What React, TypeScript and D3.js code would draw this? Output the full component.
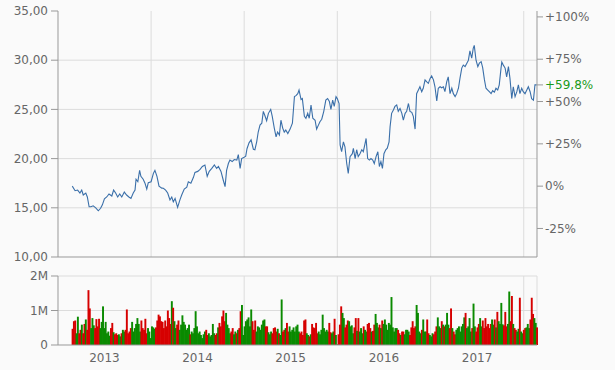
import { useEffect } from "react";
import * as d3 from "d3";

// closing prices
const prices = [
  17.2, 16.74, 16.8, 16.5, 16.8, 16.3, 16.5, 16.1, 15.1, 15.1,
  15.2, 15.0, 14.7, 14.95, 15.3, 15.9, 16.1, 16.4, 16.2, 16.8,
  16.5, 16.1, 16.4, 16.1, 16.6, 16.3, 16.1, 15.95, 16.5, 16.8,
  17.9, 17.65, 18.8, 18.2, 17.9, 17.5, 16.9, 17.55, 17.65, 18.5,
  18.8, 18.2, 17.2, 17.0, 16.98, 16.8, 16.5, 15.8, 16.1, 15.6,
  15.95, 15.05, 15.8, 16.3, 16.9, 17.1, 17.65, 17.5, 18.1, 18.6,
  18.7, 18.9, 19.2, 19.35, 18.2, 18.7, 19.0, 19.35, 19.0, 19.2,
  18.7, 17.8, 17.15, 18.8, 19.5, 19.85, 19.7, 19.9, 19.85, 20.4,
  19.0, 20.0, 20.1, 20.25, 21.0, 21.6, 21.9, 20.95, 20.9, 21.7,
  22.7, 23.4, 23.6, 24.8, 24.3, 23.85, 24.6, 25.0, 24.3, 23.1,
  22.2, 22.7, 22.4, 23.9, 23.1, 22.7, 22.9, 22.55, 23.0, 23.6,
  26.3, 26.4, 26.6, 26.97, 26.0, 26.1, 24.3, 24.1, 24.6, 24.1,
  25.45, 24.1, 23.9, 23.0, 23.4, 23.75, 24.0, 24.8, 25.95, 26.1,
  25.8, 25.0, 25.95, 25.3, 26.3, 26.1, 25.6, 21.4, 20.7, 21.7,
  21.2, 19.5, 18.5, 20.2, 20.5, 21.05, 20.0, 20.9, 20.2, 20.5,
  20.9, 20.7, 21.55, 22.05, 20.0, 19.85, 20.0, 19.85, 19.5, 20.2,
  20.7, 19.2, 19.7, 19.0, 20.5, 20.9, 21.05, 21.7, 23.25, 24.6,
  24.95, 25.3, 25.45, 24.8, 25.1, 24.6, 23.9, 24.6, 24.8, 25.6,
  24.8, 24.7, 24.3, 23.0, 26.6, 26.97, 27.3, 26.8, 27.15, 28.0,
  27.8, 27.65, 28.15, 28.4, 28.0, 27.3, 25.85, 27.15, 27.3, 27.2,
  27.3, 26.8, 27.8, 28.3, 26.6, 27.15, 26.6, 26.3, 26.6, 27.15,
  28.15, 29.2, 29.5, 29.35, 29.7, 30.0, 30.95, 30.2, 31.2, 31.5,
  30.0, 29.35, 29.7, 29.85, 29.25, 28.0, 27.15, 26.97, 26.8, 26.6,
  26.9, 26.75, 27.15, 26.97, 27.5, 29.2, 29.8, 29.5, 29.2, 28.3,
  29.35, 28.15, 26.1, 27.3, 26.3, 26.8, 27.5, 26.6, 27.15, 26.8,
  26.6, 26.97, 27.3, 26.8, 26.1, 25.95, 27.5, 27.49,
];

// day of each price reading, counted from 1 Jan 2013
const priceDay = [
  56, 67, 77, 86, 93, 99, 109, 115, 122, 129,
  138, 148, 158, 167, 174, 182, 191, 200, 211, 218,
  226, 234, 242, 250, 260, 269, 278, 286, 295, 302,
  306, 313, 320, 325, 334, 341, 348, 354, 365, 374,
  380, 388, 396, 407, 413, 422, 430, 439, 446, 452,
  459, 469, 478, 485, 495, 505, 511, 521, 531, 537,
  548, 557, 566, 576, 585, 593, 603, 613, 622, 629,
  639, 648, 655, 661, 668, 674, 683, 691, 701, 707,
  714, 720, 728, 736, 741, 749, 757, 766, 772, 779,
  785, 792, 799, 805, 812, 818, 825, 834, 840, 848,
  855, 861, 868, 874, 881, 887, 893, 901, 910, 919,
  927, 933, 940, 945, 953, 958, 966, 972, 979, 985,
  992, 999, 1008, 1014, 1021, 1027, 1034, 1042, 1050, 1057,
  1064, 1070, 1077, 1083, 1090, 1095, 1102, 1106, 1112, 1119,
  1125, 1132, 1138, 1145, 1154, 1158, 1165, 1171, 1177, 1184,
  1191, 1197, 1204, 1208, 1214, 1221, 1227, 1234, 1240, 1247,
  1254, 1260, 1266, 1272, 1278, 1285, 1291, 1298, 1302, 1308,
  1315, 1321, 1328, 1334, 1341, 1348, 1354, 1361, 1367, 1374,
  1380, 1387, 1393, 1400, 1406, 1413, 1419, 1426, 1432, 1439,
  1446, 1452, 1459, 1465, 1472, 1478, 1485, 1491, 1498, 1504,
  1511, 1517, 1524, 1530, 1537, 1544, 1550, 1557, 1563, 1570,
  1576, 1583, 1589, 1596, 1603, 1609, 1615, 1622, 1628, 1632,
  1639, 1646, 1652, 1659, 1665, 1672, 1678, 1685, 1691, 1698,
  1704, 1711, 1717, 1724, 1730, 1737, 1740, 1746, 1753, 1759,
  1766, 1772, 1779, 1785, 1792, 1799, 1805, 1811, 1818, 1824,
  1831, 1838, 1844, 1851, 1857, 1864, 1870, 1877,
];

// traded volume in millions, evenly spaced over the same period
const volumes = [
  0.47, 0.69, 0.71, 0.34, 0.82, 0.34, 0.44, 0.59, 0.34, 0.61,
  0.74, 0.44, 1.59, 1.06, 0.49, 0.78, 0.57, 0.49, 0.75, 0.54,
  0.76, 0.49, 0.67, 1.12, 0.49, 0.67, 0.34, 0.39, 0.27, 0.49,
  0.64, 0.37, 0.31, 0.34, 0.29, 0.31, 0.25, 0.34, 0.44, 0.39,
  0.44, 1.03, 0.34, 0.39, 0.49, 0.67, 0.39, 0.49, 0.61, 0.78,
  0.61, 0.39, 0.71, 0.49, 0.44, 0.76, 0.34, 0.49, 0.39, 0.2,
  0.54, 0.51, 0.47, 0.51, 0.71, 0.88, 0.83, 0.69, 0.67, 0.49,
  0.71, 0.54, 1.0, 0.78, 0.61, 1.27, 1.08, 0.69, 0.49, 0.59,
  0.71, 0.44, 0.59, 0.86, 0.67, 0.59, 0.44, 0.49, 0.59, 0.31,
  0.39, 0.34, 0.49, 0.98, 0.54, 0.34, 0.39, 0.29, 0.2, 0.31,
  0.39, 0.44, 0.29, 0.34, 0.25, 0.29, 0.61, 0.34, 0.29, 0.34,
  0.51, 0.64, 0.54, 0.83, 1.0, 0.69, 0.93, 0.59, 0.49, 0.34,
  0.39, 0.49, 0.31, 0.39, 0.34, 0.44, 0.49, 0.98, 1.16, 0.29,
  0.54, 0.69, 0.74, 0.8, 0.54, 1.03, 0.69, 0.44, 0.71, 0.39,
  0.54, 0.51, 0.44, 0.59, 0.71, 0.74, 0.54, 0.54, 0.37, 0.31,
  0.39, 0.34, 0.49, 0.51, 0.39, 0.47, 0.34, 0.29, 1.32, 0.39,
  0.44, 0.49, 0.64, 0.39, 0.54, 0.39, 0.44, 0.51, 0.39, 0.54,
  0.59,
  0.39, 0.34, 0.39, 0.29, 0.71, 0.74, 0.34, 0.29, 0.25, 0.31,
  0.61, 0.51, 0.49, 0.64, 0.34, 0.39, 0.31, 0.44, 0.88, 0.49,
  0.39, 0.44, 0.39, 0.64, 0.37, 0.34, 0.39, 0.76, 0.29, 0.02,
  0.31, 0.59, 1.12, 0.93, 0.78, 0.51, 0.59, 0.71, 0.69, 0.54,
  0.57, 0.34, 0.51, 0.78, 0.41, 0.78, 0.39, 0.49, 0.34, 0.54,
  0.44, 0.39, 0.61, 0.64, 0.49, 0.39, 0.41, 0.59, 0.9, 0.64,
  0.51, 0.59, 0.49, 0.71, 0.61, 0.74, 0.59, 0.44, 0.64, 0.59,
  1.39, 0.51, 0.39, 0.49, 0.49, 0.44, 0.34, 0.29, 0.39, 0.39,
  0.31, 0.44, 0.44, 0.39, 0.29, 0.51, 0.69, 0.49, 0.54, 1.16,
  0.93, 0.39, 0.34, 0.44, 0.74, 0.39, 0.39, 0.74, 0.34, 0.29,
  0.25, 0.34, 0.31, 0.39, 0.54, 0.8, 0.54, 0.49, 0.69, 0.59,
  0.54, 0.59, 0.93, 0.59, 0.49, 1.06, 0.49, 0.39, 0.31, 0.44,
  0.49, 0.54, 0.39, 0.54, 0.61, 0.8, 0.93, 0.49, 0.54, 0.78,
  0.39, 0.49, 1.2, 0.54, 0.39, 0.51, 0.61, 0.78, 0.54, 0.71,
  0.49, 0.78, 0.54, 0.61, 0.49, 0.61, 0.74, 0.59, 0.74, 0.51,
  0.96, 0.69, 0.61, 1.22, 0.6, 0.57, 0.96, 0.54, 0.61, 1.55,
  0.69, 1.42, 0.61, 0.49, 0.44, 0.39, 0.47, 1.37, 0.39, 0.34,
  0.44, 0.49, 0.51, 0.61, 0.49, 0.74, 1.37, 0.9, 0.78, 0.64,
  0.51,
];

const priceTicks = [10, 15, 20, 25, 30, 35];
const pctTicks = [-0.25, 0, 0.25, 0.5, 0.75, 1];
const volTicks = [0, 1, 2];
const years = [2013, 2014, 2015, 2016, 2017];

const W = 615;
const H = 370;
const left = 58;
const right = 537;
const DAY = 864e5;
const origin = new Date(2013, 0, 1).getTime();

export default function App() {
  useEffect(() => {
    document.body.style.margin = "0";
    document.body.style.background = "#fafafa";
  }, []);

  const x = d3.scaleTime().domain([new Date(2013, 0, 1), new Date(2018, 1, 22)]).range([left, right]);
  const yP = d3.scaleLinear().domain([10, 35]).range([257, 11]);
  const yV = d3.scaleLinear().domain([0, 2]).range([345, 276]);

  const pDates = priceDay.map((d) => new Date(origin + d * DAY));
  const first = pDates[0].getTime();
  const span = pDates[pDates.length - 1].getTime() - first;
  const vDates = volumes.map((_, i) => new Date(first + (span * i) / (volumes.length - 1)));

  // price level at a volume bar's date, used only to color it up / down
  const priceAt = d3.scaleTime().domain(pDates).range(prices);
  const barW = x(vDates[1]) - x(vDates[0]);

  const base = prices[0];
  const last = prices[prices.length - 1];
  const lastPct = last / base - 1;
  const fmtPrice = (v: number) => d3.format(".2f")(v).replace(".", ",");
  const fmtPct = (p: number) =>
    p === 0 ? "0%" : (p > 0 ? "+" : "-") + d3.format(".0f")(Math.abs(p) * 100) + "%";

  const line = d3.line<number>()
    .x((_, i) => x(pDates[i]))
    .y((d) => yP(d));

  const yearStarts = d3.timeYear.range(new Date(2014, 0, 1), new Date(2018, 0, 2));
  const font = { fontFamily: "DejaVu Sans, Verdana, sans-serif", fontSize: 12 };
  const axisCol = "#999";
  const gridCol = "#dcdcdc";
  const textCol = "#666";

  return (
    <svg width={W} height={H} style={{ display: "block", background: "#fafafa" }}>
      {/* price panel grid */}
      {priceTicks.slice(1, -1).map((t) => (
        <line key={"pg" + t} x1={left} x2={right} y1={yP(t)} y2={yP(t)} stroke={gridCol} />
      ))}
      {yearStarts.map((d, i) => (
        <g key={"vg" + i}>
          <line x1={x(d)} x2={x(d)} y1={yP(35)} y2={yP(10)} stroke={gridCol} />
          <line x1={x(d)} x2={x(d)} y1={yV(2)} y2={yV(0)} stroke={gridCol} />
        </g>
      ))}

      {/* volume panel grid */}
      {volTicks.slice(1).map((t) => (
        <line key={"vgl" + t} x1={left} x2={right} y1={yV(t)} y2={yV(t)} stroke={gridCol} />
      ))}
      <line x1={right} x2={right} y1={yV(2)} y2={yV(0)} stroke={gridCol} />

      {/* volume bars */}
      {volumes.map((v, i) => {
        const prev = priceAt(vDates[Math.max(0, i - 1)]);
        const cur = priceAt(vDates[i]);
        const up = i > 0 && cur >= prev;
        return (
          <rect
            key={"v" + i}
            x={x(vDates[i]) - barW / 2}
            y={yV(v)}
            width={barW + 0.6}
            height={yV(0) - yV(v)}
            fill={up ? "#0a8a00" : "#d60000"}
          />
        );
      })}

      {/* price line */}
      <path d={line(prices) || ""} fill="none" stroke="#3a6fa9" strokeWidth={1.1} />

      {/* price axes */}
      <line x1={left} x2={left} y1={yP(35)} y2={yP(10)} stroke={axisCol} />
      <line x1={right} x2={right} y1={yP(35)} y2={yP(10)} stroke={axisCol} />
      <line x1={left} x2={right} y1={yP(10)} y2={yP(10)} stroke={axisCol} />
      {priceTicks.map((t) => (
        <g key={"pt" + t}>
          <line x1={left - 7} x2={left} y1={yP(t)} y2={yP(t)} stroke={axisCol} />
          <text x={left - 10} y={yP(t)} dy="0.35em" textAnchor="end" fill={textCol} style={font}>
            {fmtPrice(t)}
          </text>
        </g>
      ))}
      {pctTicks.map((p) => (
        <g key={"pc" + p}>
          <line x1={right} x2={right + 6} y1={yP(base * (1 + p))} y2={yP(base * (1 + p))} stroke={axisCol} />
          <text x={right + 8} y={yP(base * (1 + p))} dy="0.35em" fill={textCol} style={font}>
            {fmtPct(p)}
          </text>
        </g>
      ))}
      <line x1={right} x2={right + 6} y1={yP(last)} y2={yP(last)} stroke={axisCol} />
      <text x={right + 8} y={yP(last)} dy="0.35em" fill="#1a9a1a" style={font}>
        {"+" + d3.format(".1f")(lastPct * 100).replace(".", ",") + "%"}
      </text>

      {/* volume axes */}
      <line x1={left} x2={left} y1={yV(2)} y2={yV(0)} stroke={axisCol} />
      <line x1={left} x2={right} y1={yV(0)} y2={yV(0)} stroke={axisCol} />
      {volTicks.map((t) => (
        <g key={"vt" + t}>
          <line x1={left - 7} x2={left} y1={yV(t)} y2={yV(t)} stroke={axisCol} />
          <text x={left - 10} y={yV(t)} dy="0.35em" textAnchor="end" fill={textCol} style={font}>
            {t === 0 ? "0" : t + "M"}
          </text>
        </g>
      ))}
      {years.map((yr) => (
        <text key={"yr" + yr} x={x(new Date(yr, 6, 2))} y={358} dy="0.35em" textAnchor="middle" fill={textCol} style={font}>
          {yr}
        </text>
      ))}
    </svg>
  );
}
